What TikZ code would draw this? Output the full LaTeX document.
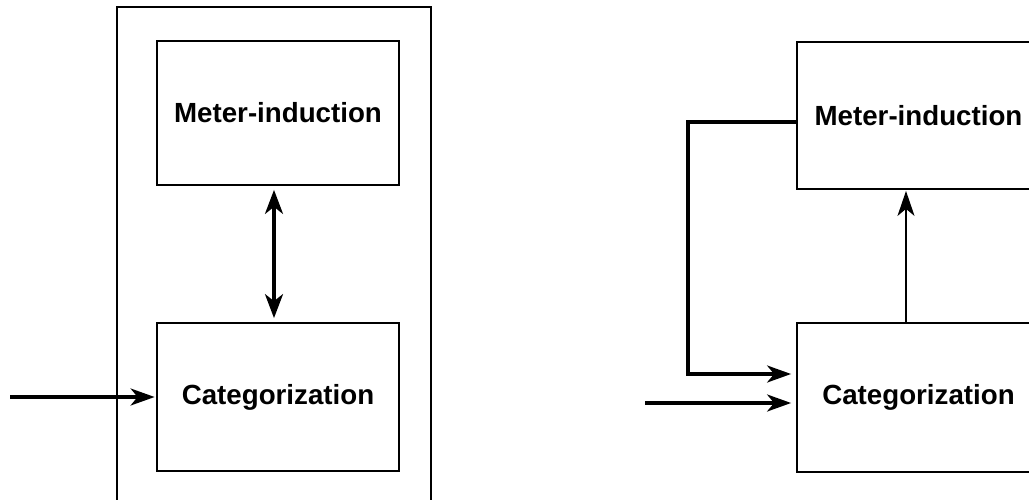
\documentclass[tikz,border=0pt]{standalone}
\usepackage{fontspec}
\setmainfont{Liberation Sans}
\usetikzlibrary{arrows.meta}
\tikzset{
  module/.style={draw, line width=1.8pt, minimum width=242pt, inner sep=0pt,
    font=\fontsize{27.7}{33}\selectfont\bfseries},
  heavy/.style={line width=3.2pt},
  bigtip/.style={-{Stealth[length=24pt,width=17pt,inset=7pt]}},
  bothtip/.style={{Stealth[length=24pt,width=18pt,inset=7pt]}-{Stealth[length=24pt,width=18pt,inset=7pt]}},
  thintip/.style={-{Stealth[length=25pt,width=17pt,inset=7pt]}},
}
\begin{document}
\begin{tikzpicture}[x=1pt,y=-1pt]
\clip (0,0) rectangle (1029,499);
% left system: enclosing frame with two modules
\node[draw, line width=1.8pt, minimum width=314pt, minimum height=530pt, inner sep=0pt] (frame) at (274,272) {};
\node[module, minimum height=144pt] (lm) at (278,113) {Meter-induction};
\node[module, minimum height=148pt] (lc) at (278,397) {Categorization};
\coordinate (inL) at (10,397);
\draw[heavy, bigtip, shorten >=1.5pt] (inL) -- (lc.west);
\draw[heavy, bothtip, shorten <=4pt, shorten >=4pt] ([xshift=-4pt]lm.south) -- ([xshift=-4pt]lc.north);
% right system: feed-forward with feedback loop
\node[module, minimum width=243pt, minimum height=147pt] (rm) at (918.5,115.5) {Meter-induction};
\node[module, minimum width=243pt, minimum height=149pt] (rc) at (918.5,397.5) {Categorization};
\coordinate (loop) at (688,374);
\coordinate (inR) at (645,403);
\draw[line width=1.6pt, thintip, shorten >=1pt] ([xshift=-12.5pt]rc.north) -- ([xshift=-12.5pt]rm.south);
\draw[heavy, bigtip, shorten >=5pt] ([yshift=-6.5pt]rm.west) -| (loop) -- (loop -| rc.west);
\draw[heavy, bigtip, shorten >=5pt] (inR) -- (inR -| rc.west);
\end{tikzpicture}
\end{document}
